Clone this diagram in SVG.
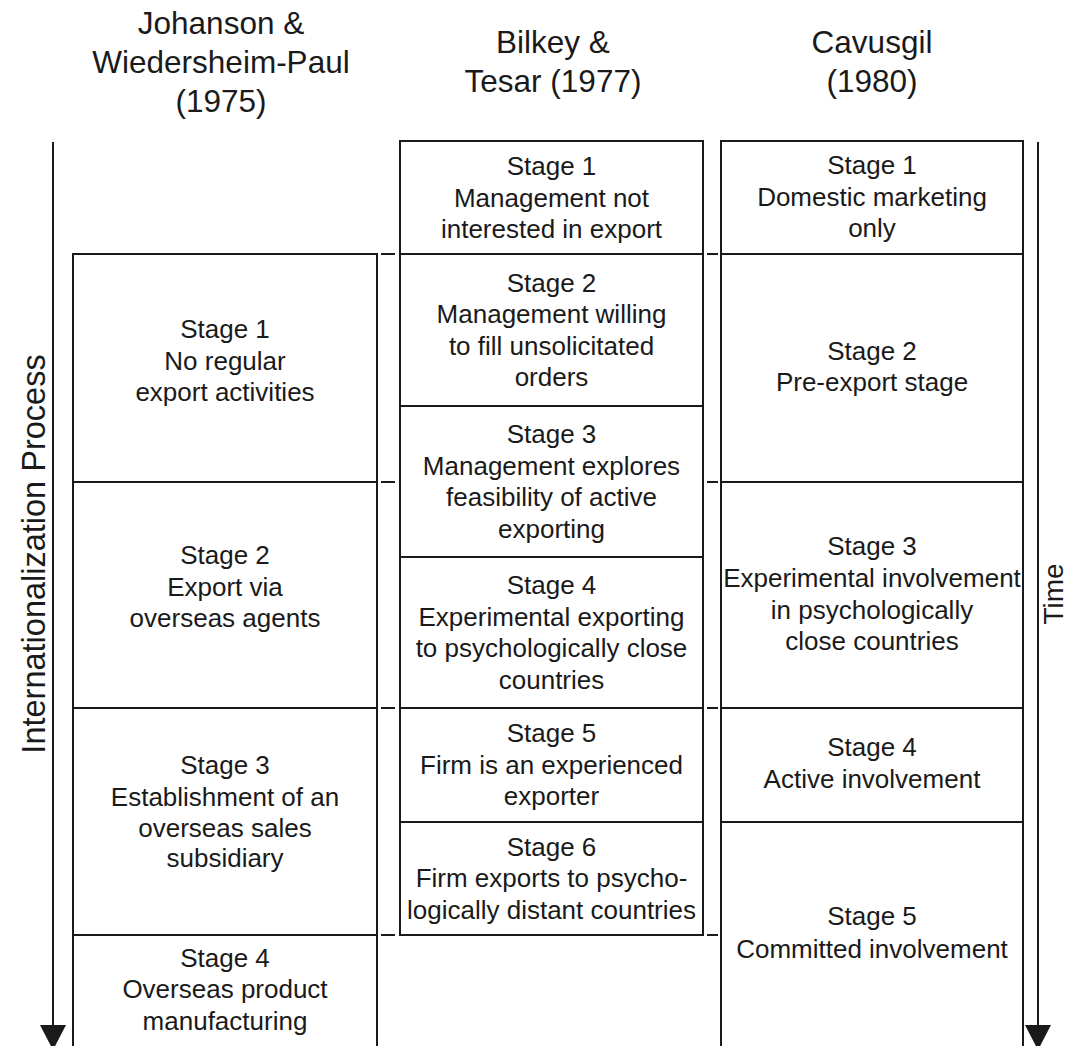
<svg xmlns="http://www.w3.org/2000/svg" width="1072" height="1046" viewBox="0 0 1072 1046">
<style>
.box{fill:#fff;stroke:#1a1a1a;stroke-width:2}
.t{font-family:"Liberation Sans",Arial,sans-serif;font-size:26px;fill:#1a1a1a;text-anchor:middle}
.h{font-family:"Liberation Sans",Arial,sans-serif;font-size:31.5px;fill:#1a1a1a;text-anchor:middle}
.v{font-family:"Liberation Sans",Arial,sans-serif;font-size:32.5px;fill:#1a1a1a;text-anchor:middle}
.ln{stroke:#1a1a1a;stroke-width:2;fill:none}
.ah{fill:#1a1a1a}
</style>
<rect width="1072" height="1046" fill="#fff"/>
<g id="headers">
<text class="h" x="221" y="34">Johanson &amp;</text>
<text class="h" x="221" y="73">Wiedersheim-Paul</text>
<text class="h" x="221" y="112">(1975)</text>
<text class="h" x="553" y="53">Bilkey &amp;</text>
<text class="h" x="553" y="92">Tesar (1977)</text>
<text class="h" x="872" y="53">Cavusgil</text>
<text class="h" x="872" y="92">(1980)</text>
</g>
<g id="connectors">
<line class="ln" x1="53" y1="142" x2="53" y2="1030"/>
<polygon class="ah" points="40,1025 66,1025 53,1050"/>
<line class="ln" x1="1038" y1="142" x2="1038" y2="1030"/>
<polygon class="ah" points="1025,1025 1051,1025 1038,1050"/>
<line class="ln" x1="381" y1="254" x2="395" y2="254"/>
<line class="ln" x1="707" y1="254" x2="718" y2="254"/>
<line class="ln" x1="381" y1="482" x2="395" y2="482"/>
<line class="ln" x1="707" y1="482" x2="718" y2="482"/>
<line class="ln" x1="381" y1="708" x2="395" y2="708"/>
<line class="ln" x1="707" y1="708" x2="718" y2="708"/>
<line class="ln" x1="381" y1="935" x2="395" y2="935"/>
<line class="ln" x1="707" y1="935" x2="718" y2="935"/>
</g>
<g id="axis-labels">
<text class="v" transform="translate(45,554) rotate(-90)">Internationalization Process</text>
<text class="v" style="font-size:28px" transform="translate(1063,594) rotate(-90)">Time</text>
</g>
<g id="jw-stage1">
<rect class="box" x="73" y="254" width="304" height="228"/>
<text class="t" x="225" y="338">Stage 1</text>
<text class="t" x="225" y="370">No regular</text>
<text class="t" x="225" y="401">export activities</text>
</g>
<g id="jw-stage2">
<rect class="box" x="73" y="482" width="304" height="226"/>
<text class="t" x="225" y="564">Stage 2</text>
<text class="t" x="225" y="596">Export via</text>
<text class="t" x="225" y="627">overseas agents</text>
</g>
<g id="jw-stage3">
<rect class="box" x="73" y="708" width="304" height="227"/>
<text class="t" x="225" y="774">Stage 3</text>
<text class="t" x="225" y="806">Establishment of an</text>
<text class="t" x="225" y="837">overseas sales</text>
<text class="t" x="225" y="867">subsidiary</text>
</g>
<g id="jw-stage4">
<rect class="box" x="73" y="935" width="304" height="130"/>
<text class="t" x="225" y="967">Stage 4</text>
<text class="t" x="225" y="998">Overseas product</text>
<text class="t" x="225" y="1030">manufacturing</text>
</g>
<g id="bt-stage1">
<rect class="box" x="400" y="141" width="303" height="113"/>
<text class="t" x="551.5" y="175">Stage 1</text>
<text class="t" x="551.5" y="207">Management not</text>
<text class="t" x="551.5" y="238">interested in export</text>
</g>
<g id="bt-stage2">
<rect class="box" x="400" y="254" width="303" height="152"/>
<text class="t" x="551.5" y="292">Stage 2</text>
<text class="t" x="551.5" y="323">Management willing</text>
<text class="t" x="551.5" y="355">to fill unsolicitated</text>
<text class="t" x="551.5" y="386">orders</text>
</g>
<g id="bt-stage3">
<rect class="box" x="400" y="406" width="303" height="151"/>
<text class="t" x="551.5" y="443">Stage 3</text>
<text class="t" x="551.5" y="475">Management explores</text>
<text class="t" x="551.5" y="506">feasibility of active</text>
<text class="t" x="551.5" y="538">exporting</text>
</g>
<g id="bt-stage4">
<rect class="box" x="400" y="557" width="303" height="151"/>
<text class="t" x="551.5" y="594">Stage 4</text>
<text class="t" x="551.5" y="626">Experimental exporting</text>
<text class="t" x="551.5" y="657">to psychologically close</text>
<text class="t" x="551.5" y="689">countries</text>
</g>
<g id="bt-stage5">
<rect class="box" x="400" y="708" width="303" height="114"/>
<text class="t" x="551.5" y="742">Stage 5</text>
<text class="t" x="551.5" y="774">Firm is an experienced</text>
<text class="t" x="551.5" y="805">exporter</text>
</g>
<g id="bt-stage6">
<rect class="box" x="400" y="822" width="303" height="113"/>
<text class="t" x="551.5" y="856">Stage 6</text>
<text class="t" x="551.5" y="887">Firm exports to psycho-</text>
<text class="t" x="551.5" y="919">logically distant countries</text>
</g>
<g id="c-stage1">
<rect class="box" x="721" y="141" width="302" height="113"/>
<text class="t" x="872" y="174">Stage 1</text>
<text class="t" x="872" y="206">Domestic marketing</text>
<text class="t" x="872" y="237">only</text>
</g>
<g id="c-stage2">
<rect class="box" x="721" y="254" width="302" height="228"/>
<text class="t" x="872" y="360">Stage 2</text>
<text class="t" x="872" y="391">Pre-export stage</text>
</g>
<g id="c-stage3">
<rect class="box" x="721" y="482" width="302" height="226"/>
<text class="t" x="872" y="555">Stage 3</text>
<text class="t" x="872" y="587">Experimental involvement</text>
<text class="t" x="872" y="619">in psychologically</text>
<text class="t" x="872" y="650">close countries</text>
</g>
<g id="c-stage4">
<rect class="box" x="721" y="708" width="302" height="114"/>
<text class="t" x="872" y="756">Stage 4</text>
<text class="t" x="872" y="788">Active involvement</text>
</g>
<g id="c-stage5">
<rect class="box" x="721" y="822" width="302" height="240"/>
<text class="t" x="872" y="925">Stage 5</text>
<text class="t" x="872" y="958">Committed involvement</text>
</g>
</svg>
